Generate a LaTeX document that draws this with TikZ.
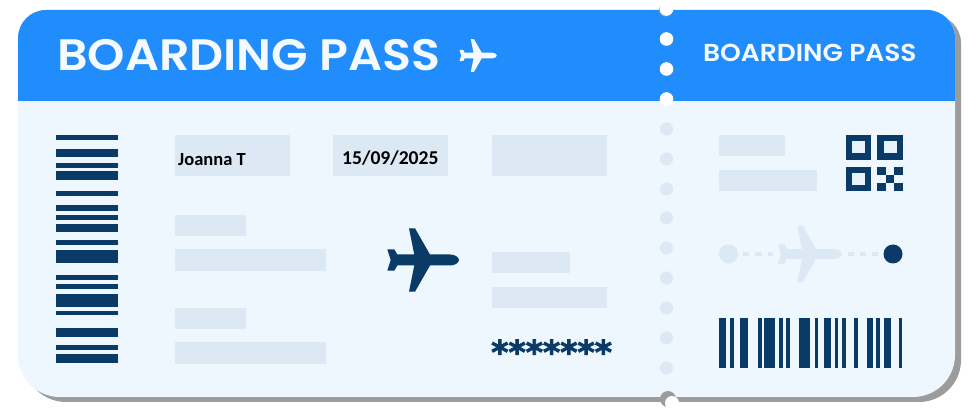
\documentclass[tikz,border=0pt]{standalone}
\usepackage{fontspec}
\usepackage{xcolor}
\usetikzlibrary{positioning}
\newfontfamily\passfont[BoldFont={Poppins SemiBold},FakeStretch=1.08]{Poppins}
\newfontfamily\fillfont{Carlito}
\newfontfamily\starfont[FakeBold=2.5]{DejaVu Sans}
\definecolor{passblue}{HTML}{218CFC}
\definecolor{passbody}{HTML}{EEF6FE}
\definecolor{passnavy}{HTML}{0A3A66}
\definecolor{passfield}{HTML}{DCE8F3}
\definecolor{passshadow}{HTML}{9C9C9C}
\definecolor{passtitle}{HTML}{F4FAFF}

\begin{document}
\begin{tikzpicture}[
    x=1pt, y=-1pt,
    field/.style={rectangle, fill=passfield, anchor=north west, inner sep=0pt, minimum height=#1},
    field/.default=21pt,
    dot/.style={circle, fill=passfield, inner sep=0pt, minimum size=13pt},
    routedot/.style={circle, inner sep=0pt, minimum size=19pt},
    routedash/.style={passfield, line width=3.3pt, dash pattern=on 6.3pt off 6pt},
    passtext/.style={text=passtitle, font=\passfont\bfseries\fontsize{#1}{#1}\selectfont, anchor=base west, inner sep=0pt},
    entry/.style={text=black, font=\fillfont\bfseries\fontsize{#1}{#1}\selectfont, anchor=base west, inner sep=0pt},
    passshape/.style={insert path={
        (18,200) [rounded corners=28pt] -- (18,10) -- (955,10) -- (955,200)
        [rounded corners=42pt] -- (955,397) -- (18,397) -- cycle}},
    pics/airplane/.style={code={
        \fill[#1] (0,-10.7) -- (7,-10.7) -- (10,-5.5) -- (27,-5.5) -- (21.7,-31.7) -- (27.7,-31.7)
            -- (42.7,-5.5) -- (62.7,-5.5) .. controls (68,-5.5) and (71.7,-2.5) .. (71.7,0)
            .. controls (71.7,2.5) and (68,5.5) .. (62.7,5.5) -- (42.7,5.5) -- (27.7,31.7)
            -- (21.7,31.7) -- (27,5.5) -- (10,5.5) -- (7,10.7) -- (0,10.7) -- (3.4,0) -- cycle;
    }}
]
\useasboundingbox (0,0) rectangle (980,419);

% ticket
\fill[passshadow, shift={(6,5)}, passshape];
\fill[passbody, passshape];
\fill[passblue] (18,101) [rounded corners=28pt] -- (18,10) -- (955,10) [sharp corners] -- (955,101) -- cycle;
\node[passtext=44] (maintitle) at (57,70.5) {BOARDING PASS};
\node[passtext=24.5] (stubtitle) at (703,62) {BOARDING PASS};
\pic at (459.5,55.5) [scale=0.52] {airplane=passtitle};

% perforation
\fill[passshadow] (665.5,10) circle (6.5pt);
\fill[passshadow] (668,399) circle (8pt);
\fill[white] (672,403) circle (7pt);
\foreach \ypos in {9,39,69,99}
    \fill[white] (666.5,\ypos) circle (6.8pt);
\foreach \ypos [count=\i] in {129,159,189,218,248,278,308,338,368}
    \node[dot] (hole\i) at (666.5,\ypos) {};

% left barcode
\foreach \ya/\yb in {135/140,149.5/157.5,162.7/167.7,171.5/179.7,190.7/195.7,205.5/210.7,214.7/219.7,
    224/232.3,239.7/244.7,249.7/263.3,275/280.3,284/289.3,293.7/307.3,310.7/315.3,327.7/337.3,
    345/349.7,354.3/363.3}
    \fill[passnavy] (55.5,\ya) rectangle (118,\yb);

% fields
\node[field=41pt, minimum width=115pt] (namebox) at (175,135) {};
\node[field=41pt, minimum width=115pt] (datebox) at (333,135) {};
\node[field=41pt, minimum width=115pt] (gatebox) at (492,135) {};
\node[field, minimum width=71pt]  (frombox)  at (175,215) {};
\node[field=22pt, minimum width=151pt] (fromline) at (175,249) {};
\node[field, minimum width=71pt]  (tobox)    at (175,308) {};
\node[field=22pt, minimum width=151pt] (toline)   at (175,342) {};
\node[field, minimum width=78pt]  (seatbox)  at (492,252) {};
\node[field, minimum width=115pt] (seatline) at (492,287) {};
\node[field, minimum width=66pt]  (stubbox)  at (719,135) {};
\node[field, minimum width=98pt]  (stubline) at (719,170) {};

\node[entry=18.5] (name) at (178,166) {Joanna T};
\node[entry=19.6] (date) at (342,165) {15/09/2025};
\node[text=passnavy, font=\starfont\bfseries\fontsize{33}{33}\selectfont, anchor=base west, inner sep=0pt] (code) at (491,364) {*******};

\pic at (387.3,260) {airplane=passnavy};

% qr code
\foreach \xa/\ya in {846/135,877.3/135,846/166.7} {
    \fill[passnavy] (\xa,\ya) rectangle +(25.4,24.6);
    \fill[passfield!30!passbody] (\xa+6.2,\ya+6.2) rectangle +(13,12.2);
}
\foreach \col/\row in {0/0,2/0,1/1,0/2,2/2}
    \fill[passnavy] (877.3+\col*8.47,166.7+\row*8.2) rectangle +(8.47,8.2);

% route
\node[routedot, fill=passfield] (origin) at (728.5,254) {};
\node[routedot, fill=passnavy]  (dest)   at (893,254) {};
\pic at (778,254) [scale=0.89] {airplane=passfield};
\coordinate (planetail) at (778,254);
\coordinate (planenose) at (842,254);
\draw[routedash, shorten <=4.7pt, shorten >=4.7pt] (origin) -- (planetail);
\draw[routedash, shorten <=5.7pt, shorten >=5.5pt] (planenose) -- (dest);

% stub barcode
\foreach \xa/\xb in {718.7/726.3,730/733.7,740.3/747.7,757.7/761.7,764/775.3,779/783,786/790.3,
    799.3/810.3,814.7/818.3,824.3/831.3,834.7/838.3,842/845.7,853.7/857.7,866.7/873.3,876.3/880.3,
    884.3/891.3,898.7/902.3}
    \fill[passnavy] (\xa,318) rectangle (\xb,368.3);
\end{tikzpicture}
\end{document}
